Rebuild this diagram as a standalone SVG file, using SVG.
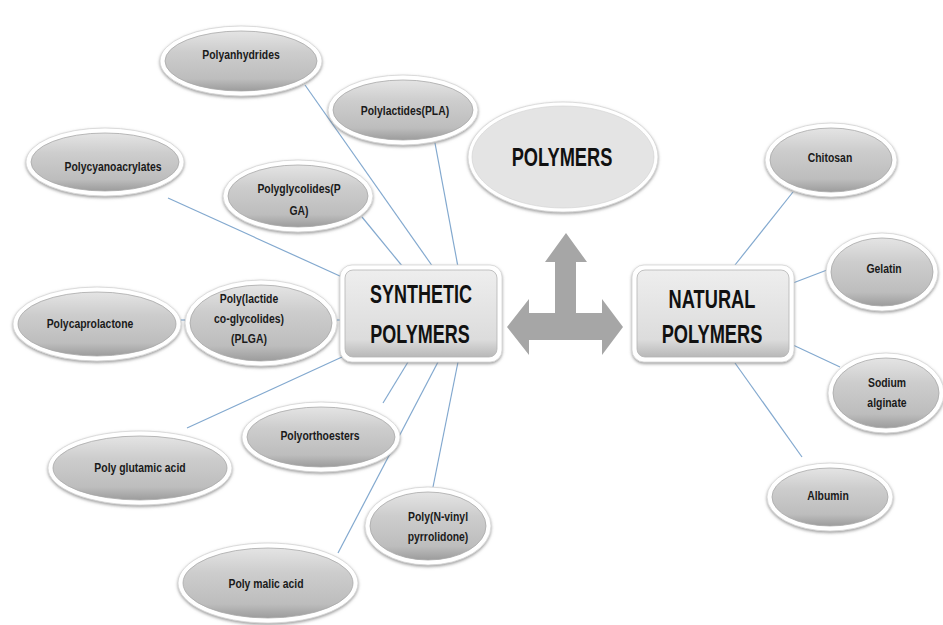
<svg xmlns="http://www.w3.org/2000/svg" width="943" height="625" viewBox="0 0 943 625">
<defs>
  <filter id="sh" x="-20%" y="-20%" width="140%" height="150%">
    <feDropShadow dx="0" dy="1.5" stdDeviation="1.6" flood-color="#7a7a7a" flood-opacity="0.75"/>
  </filter>
  <linearGradient id="og" x1="0" y1="0" x2="0" y2="1">
    <stop offset="0" stop-color="#e4e4e4"/>
    <stop offset="0.35" stop-color="#cdcdcd"/>
    <stop offset="0.8" stop-color="#bdbdbd"/>
    <stop offset="1" stop-color="#9c9c9c"/>
  </linearGradient>
  <linearGradient id="bg" x1="0" y1="0" x2="0" y2="1">
    <stop offset="0" stop-color="#eeeeee"/>
    <stop offset="0.8" stop-color="#dcdcdc"/>
    <stop offset="1" stop-color="#b8b8b8"/>
  </linearGradient>
</defs>
<style>
  .conn { stroke:#83a9cf; stroke-width:1.2; fill:none; }
  .ring { fill:#ffffff; stroke:#d4d4d4; stroke-width:0.8; filter:url(#sh); }
  .oval { fill:url(#og); stroke:#a8a8a8; stroke-width:0.8; }
  .box-o { fill:#ffffff; stroke:#d4d4d4; stroke-width:0.8; filter:url(#sh); }
  .box-i { fill:url(#bg); stroke:#b4b4b4; stroke-width:0.8; }
  .lbl { font-family:"Liberation Sans", Arial, sans-serif; font-weight:bold; font-size:13px; fill:#1a1a1a; text-anchor:middle; }
  .big { font-family:"Liberation Sans", Arial, sans-serif; font-weight:bold; font-size:25px; fill:#111111; text-anchor:middle; }
</style>
<rect width="943" height="625" fill="#ffffff"/>

<g id="connectors">
  <line class="conn" x1="305" y1="85" x2="433" y2="267"/>
  <line class="conn" x1="435" y1="143" x2="458" y2="267"/>
  <line class="conn" x1="362" y1="217" x2="403" y2="267"/>
  <line class="conn" x1="168" y1="198" x2="342" y2="277"/>
  <line class="conn" x1="175" y1="320" x2="190" y2="320"/>
  <line class="conn" x1="333" y1="320" x2="345" y2="320"/>
  <line class="conn" x1="187" y1="428" x2="342" y2="357"/>
  <line class="conn" x1="383" y1="403" x2="408" y2="362"/>
  <line class="conn" x1="338" y1="553" x2="438" y2="362"/>
  <line class="conn" x1="433" y1="487" x2="458" y2="362"/>
  <line class="conn" x1="793" y1="192" x2="735" y2="265"/>
  <line class="conn" x1="827" y1="270" x2="793" y2="283"/>
  <line class="conn" x1="793" y1="345" x2="840" y2="367"/>
  <line class="conn" x1="735" y1="363" x2="802" y2="457"/>
</g>

<g id="arrow">
  <polygon fill="#a6a6a6" points="566,233 587,262 576,262 576,313 602,313 602,299 623,327 602,355 602,340 529,340 529,355 507,327 529,299 529,313 555,313 555,262 545,262"/>
</g>

<g id="polymers">
  <ellipse class="ring" cx="563" cy="157" rx="95" ry="55"/>
  <ellipse cx="563" cy="157" rx="91" ry="51" fill="#e4e4e4" stroke="#d0d0d0" stroke-width="0.6"/>
  <text class="big" transform="translate(562,166) scale(0.73,1)" x="0" y="0">POLYMERS</text>
</g>

<g id="synthetic">
  <rect class="box-o" x="340" y="265" width="162" height="97" rx="12"/>
  <rect class="box-i" x="345" y="270" width="152" height="87" rx="8"/>
  <text class="big" transform="translate(421,303) scale(0.72,1)" x="0" y="0">SYNTHETIC</text>
  <text class="big" transform="translate(420,343) scale(0.72,1)" x="0" y="0">POLYMERS</text>
</g>

<g id="natural">
  <rect class="box-o" x="632" y="265" width="162" height="97" rx="12"/>
  <rect class="box-i" x="637" y="270" width="152" height="87" rx="8"/>
  <text class="big" transform="translate(712,308) scale(0.73,1)" x="0" y="0">NATURAL</text>
  <text class="big" transform="translate(712,343) scale(0.73,1)" x="0" y="0">POLYMERS</text>
</g>

<g id="polyanhydrides">
  <ellipse class="ring" cx="241" cy="61" rx="81" ry="35"/>
  <ellipse class="oval" cx="241" cy="61" rx="76" ry="30"/>
  <text class="lbl" transform="translate(241,59) scale(0.8,1)" x="0" y="0">Polyanhydrides</text>
</g>

<g id="polylactides">
  <ellipse class="ring" cx="403" cy="110" rx="75" ry="35"/>
  <ellipse class="oval" cx="403" cy="110" rx="70" ry="30"/>
  <text class="lbl" transform="translate(405,115) scale(0.8,1)" x="0" y="0">Polylactides(PLA)</text>
</g>

<g id="polyglycolides">
  <ellipse class="ring" cx="298" cy="196" rx="75" ry="36"/>
  <ellipse class="oval" cx="298" cy="196" rx="70" ry="31"/>
  <text class="lbl" transform="translate(299,193) scale(0.8,1)" x="0" y="0">Polyglycolides(P<tspan x="0" dy="22">GA)</tspan></text>
</g>

<g id="polycyanoacrylates">
  <ellipse class="ring" cx="105" cy="162" rx="79" ry="34"/>
  <ellipse class="oval" cx="105" cy="162" rx="74" ry="29"/>
  <text class="lbl" transform="translate(113,171) scale(0.8,1)" x="0" y="0">Polycyanoacrylates</text>
</g>

<g id="polycaprolactone">
  <ellipse class="ring" cx="97" cy="324" rx="84" ry="37"/>
  <ellipse class="oval" cx="97" cy="324" rx="79" ry="32"/>
  <text class="lbl" transform="translate(90,328) scale(0.8,1)" x="0" y="0">Polycaprolactone</text>
</g>

<g id="plga">
  <ellipse class="ring" cx="261" cy="323" rx="76" ry="43"/>
  <ellipse class="oval" cx="261" cy="323" rx="71" ry="38"/>
  <text class="lbl" transform="translate(249,303) scale(0.8,1)" x="0" y="0">Poly(lactide<tspan x="0" dy="20">co-glycolides)</tspan><tspan x="0" dy="20">(PLGA)</tspan></text>
</g>

<g id="polyglutamic">
  <ellipse class="ring" cx="140" cy="468" rx="92" ry="37"/>
  <ellipse class="oval" cx="140" cy="468" rx="87" ry="32"/>
  <text class="lbl" transform="translate(140,472) scale(0.8,1)" x="0" y="0">Poly glutamic acid</text>
</g>

<g id="polyorthoesters">
  <ellipse class="ring" cx="321" cy="437" rx="79" ry="35"/>
  <ellipse class="oval" cx="321" cy="437" rx="74" ry="30"/>
  <text class="lbl" transform="translate(320,440) scale(0.8,1)" x="0" y="0">Polyorthoesters</text>
</g>

<g id="polyvinylpyrrolidone">
  <ellipse class="ring" cx="428" cy="526" rx="63" ry="39"/>
  <ellipse class="oval" cx="428" cy="526" rx="58" ry="34"/>
  <text class="lbl" transform="translate(438,521) scale(0.8,1)" x="0" y="0">Poly(N-vinyl<tspan x="0" dy="20">pyrrolidone)</tspan></text>
</g>

<g id="polymalic">
  <ellipse class="ring" cx="268" cy="583" rx="90" ry="40"/>
  <ellipse class="oval" cx="268" cy="583" rx="85" ry="35"/>
  <text class="lbl" transform="translate(266,588) scale(0.8,1)" x="0" y="0">Poly malic acid</text>
</g>

<g id="chitosan">
  <ellipse class="ring" cx="831" cy="160" rx="66" ry="37"/>
  <ellipse class="oval" cx="831" cy="160" rx="61" ry="32"/>
  <text class="lbl" transform="translate(830,162) scale(0.8,1)" x="0" y="0">Chitosan</text>
</g>

<g id="gelatin">
  <ellipse class="ring" cx="882" cy="272" rx="56" ry="39"/>
  <ellipse class="oval" cx="882" cy="272" rx="51" ry="34"/>
  <text class="lbl" transform="translate(884,273) scale(0.8,1)" x="0" y="0">Gelatin</text>
</g>

<g id="sodiumalginate">
  <ellipse class="ring" cx="886" cy="393" rx="58" ry="40"/>
  <ellipse class="oval" cx="886" cy="393" rx="53" ry="35"/>
  <text class="lbl" transform="translate(887,387) scale(0.8,1)" x="0" y="0">Sodium<tspan x="0" dy="20">alginate</tspan></text>
</g>

<g id="albumin">
  <ellipse class="ring" cx="830" cy="497" rx="63" ry="34"/>
  <ellipse class="oval" cx="830" cy="497" rx="58" ry="29"/>
  <text class="lbl" transform="translate(828,500) scale(0.8,1)" x="0" y="0">Albumin</text>
</g>
</svg>
